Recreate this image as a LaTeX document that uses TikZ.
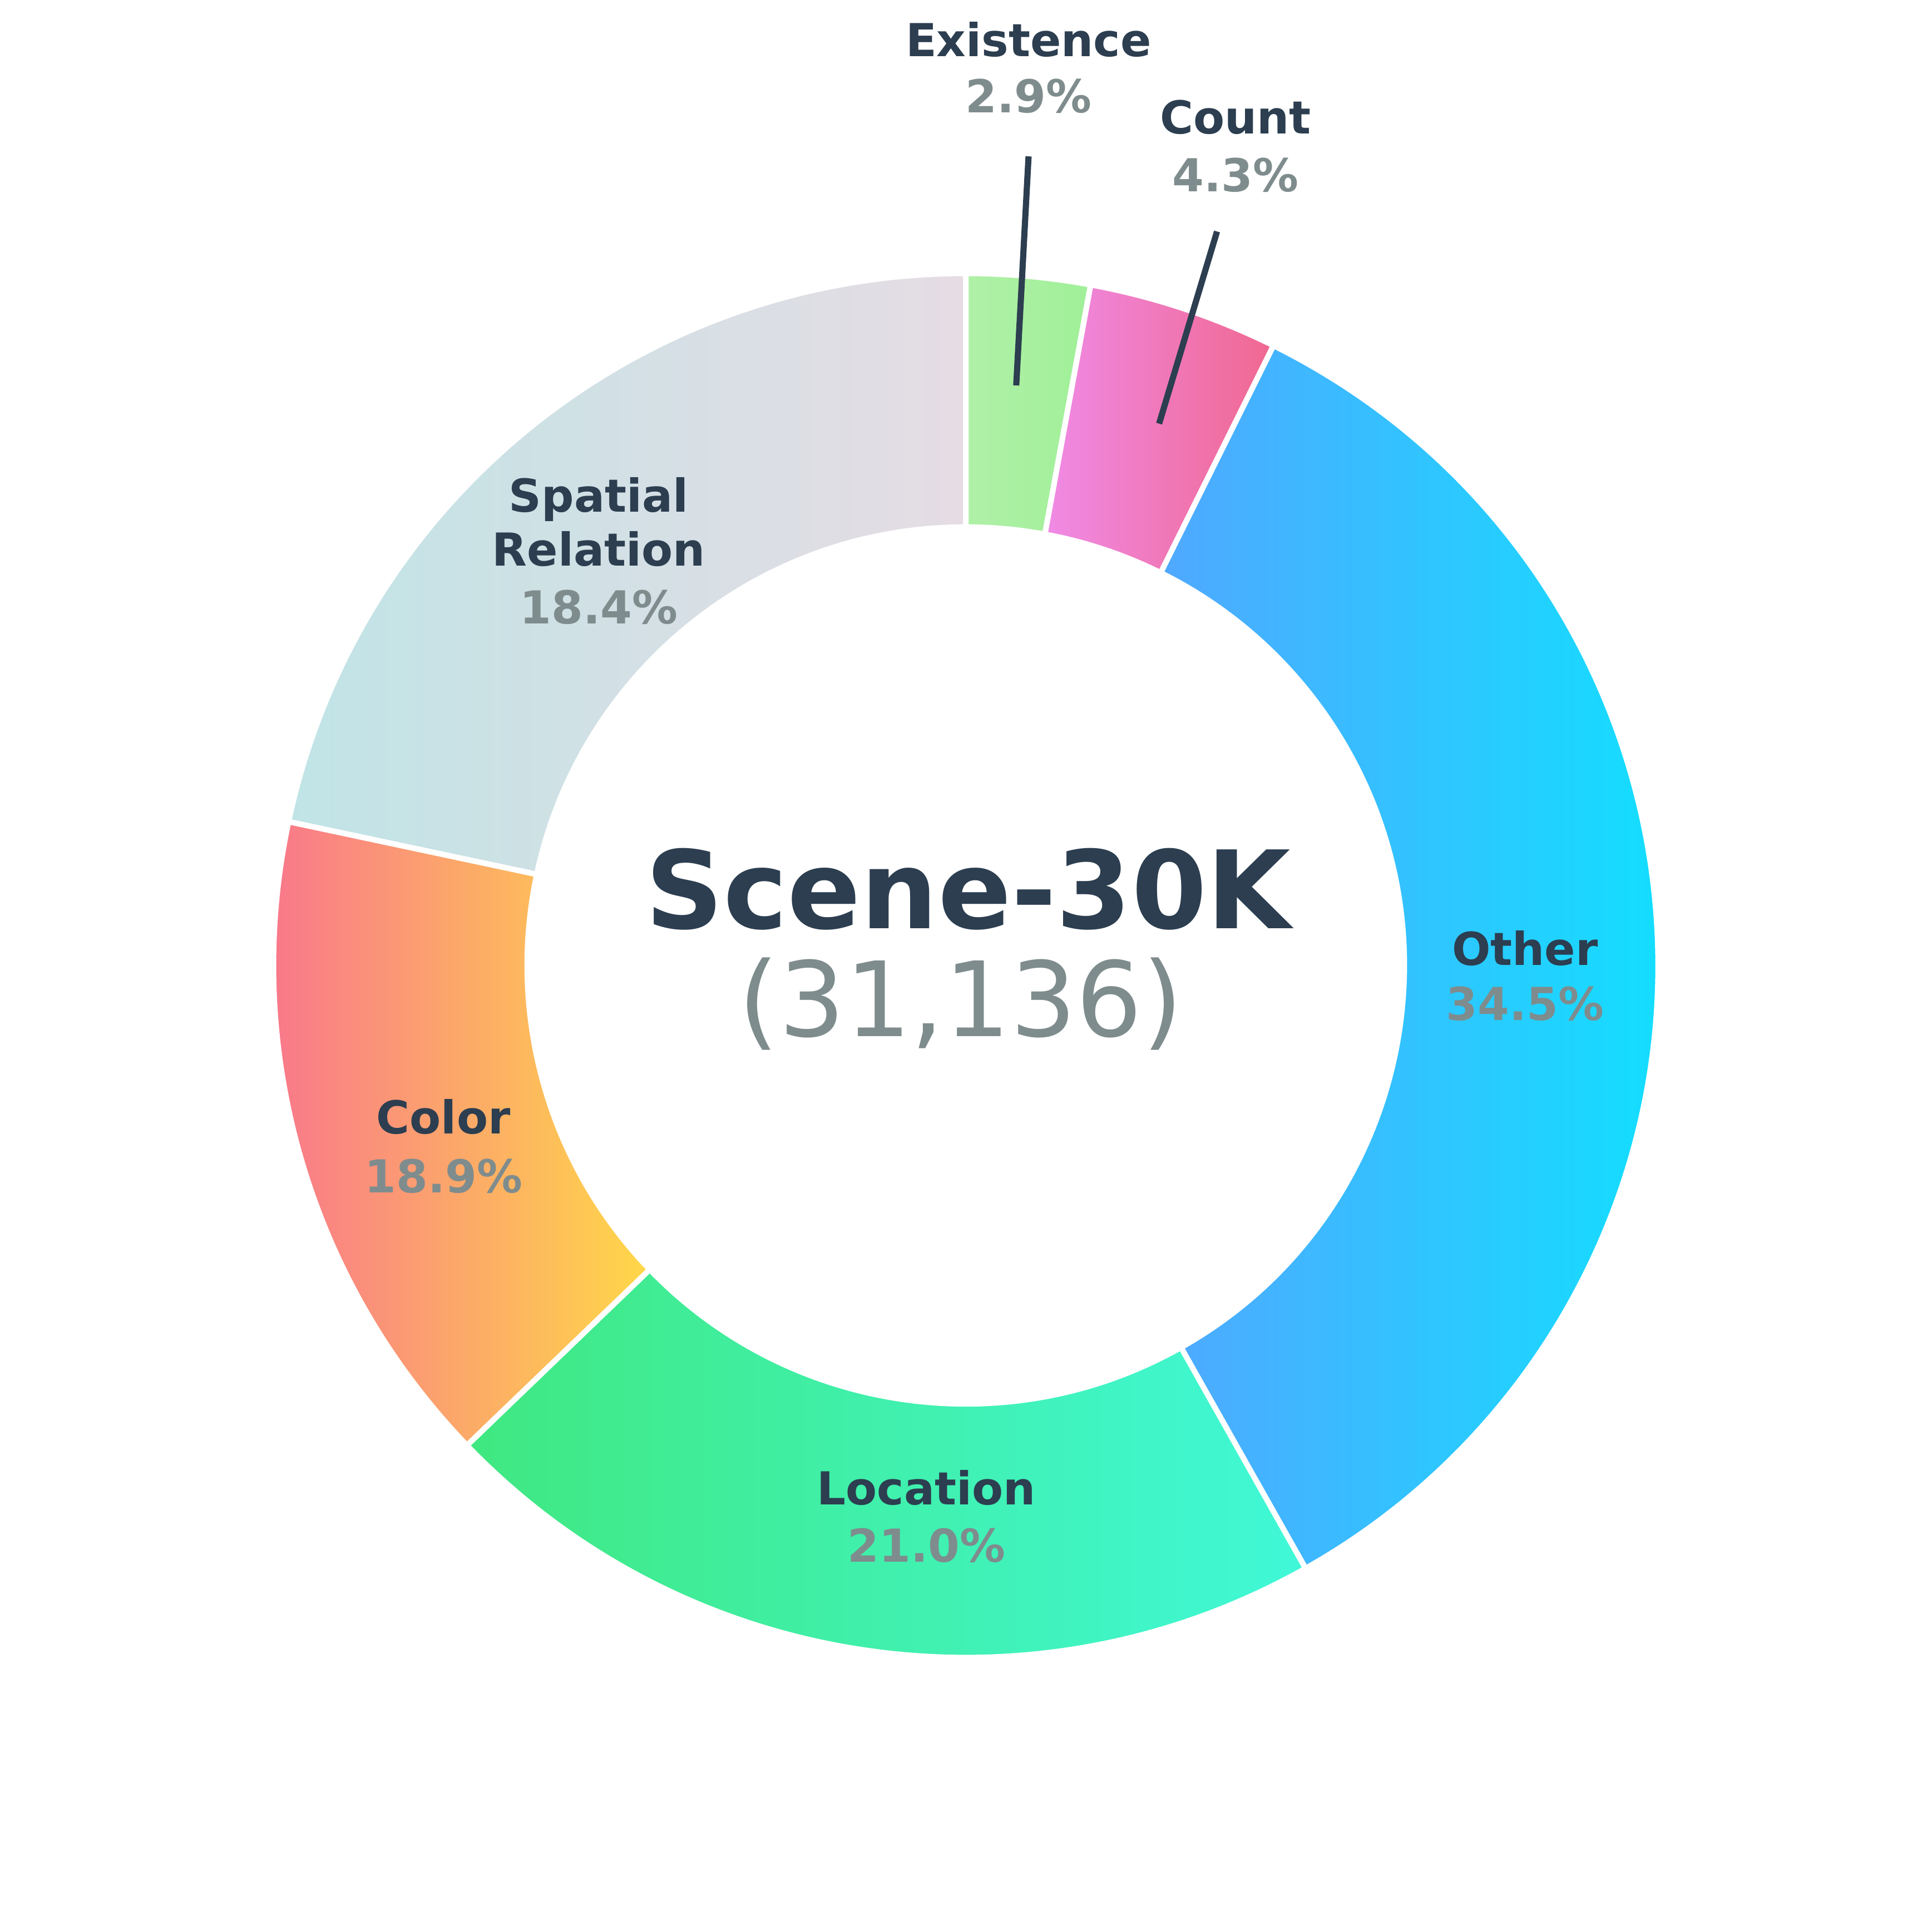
\documentclass[tikz,border=0pt]{standalone}
\usepackage{fontspec}
\setmainfont{DejaVu Sans}
\usetikzlibrary{calc}
\begin{document}
\begin{tikzpicture}[x=0.02cm,y=0.02cm]
\definecolor{dark}{HTML}{2C3E50}\definecolor{grey}{HTML}{7F8C8D}
\tikzset{seg/.style={draw=white,line width=0.09cm,shading angle=-45},
 lab/.style={font=\fontsize{21}{25}\selectfont\bfseries,text=dark,align=center,inner sep=0pt},
 pct/.style={font=\fontsize{21}{25}\selectfont\bfseries,text=grey,inner sep=0pt},
 lead/.style={draw=dark,line width=0.1cm}}
\useasboundingbox (0,0) rectangle (1568,1568);
\coordinate (c) at (784,784);
\def\R{562}\def\r{356}
\newcommand\mkseg[4]{\path[seg,left color=#3,right color=#4] ($(c)+(#1:\R)$) arc[start angle=#1,end angle=#2,radius=\R] -- ($(c)+(#2:\r)$) arc[start angle=#2,end angle=#1,radius=\r] -- cycle;}
\definecolor{e1}{HTML}{B0F0A8}\definecolor{e2}{HTML}{A0F098}
\definecolor{k1}{HTML}{F08AE6}\definecolor{k2}{HTML}{F06890}
\definecolor{o1}{HTML}{50A8FF}\definecolor{o2}{HTML}{08E8FF}
\definecolor{l1}{HTML}{40E880}\definecolor{l2}{HTML}{40F8D8}
\definecolor{c1}{HTML}{F87090}\definecolor{c2}{HTML}{FFD848}
\definecolor{s1}{HTML}{C0E4E6}\definecolor{s2}{HTML}{E6DCE4}
\mkseg{90}{79.6}{e1}{e2}
\mkseg{79.6}{63.6}{k1}{k2}
\mkseg{63.6}{-60.6}{o1}{o2}
\mkseg{-60.6}{-136.1}{l1}{l2}
\mkseg{-136.1}{-192}{c1}{c2}
\mkseg{-192}{-270}{s1}{s2}
\node[font=\fontsize{50}{60}\selectfont\bfseries,text=dark,inner sep=0pt] (t) at (786,846) {Scene-30K};
\node[font=\fontsize{48}{58}\selectfont,text=grey,inner sep=0pt] (n) at (780,753) {(31,136)};
\node[lab] (ex) at (835,1536) {Existence}; \node[pct] (exp) at (835,1490) {2.9\%};
\node[lab] (co) at (1003,1473) {Count}; \node[pct] (cop) at (1003,1426) {4.3\%};
\node[lab] (ot) at (1238,798) {Other}; \node[pct] (otp) at (1238,753) {34.5\%};
\node[lab] (lo) at (752,360) {Location}; \node[pct] (lop) at (752,313) {21.0\%};
\node[lab] (cl) at (360,661) {Color}; \node[pct] (clp) at (360,613) {18.9\%};
\node[lab] (sp) at (486,1144) {Spatial\\Relation}; \node[pct] (spp) at (486,1075) {18.4\%};
\coordinate (ea) at (835,1441); \coordinate (eb) at (825,1255);
\coordinate (ca) at (988,1380); \coordinate (cb) at (941,1224);
\draw[lead] (ea) -- (eb);
\draw[lead] (ca) -- (cb);
\end{tikzpicture}
\end{document}
